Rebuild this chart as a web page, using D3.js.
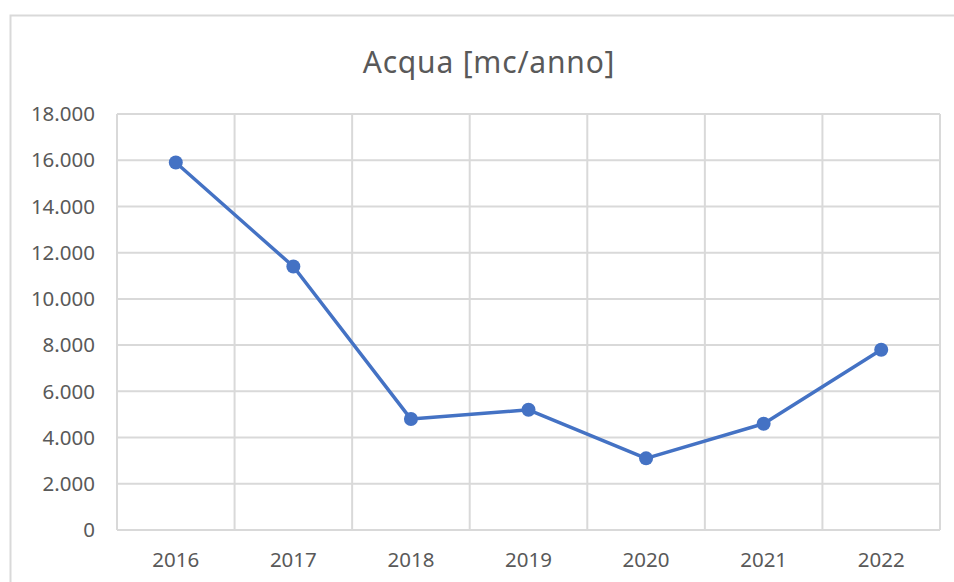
<!DOCTYPE html>
<html>
<head>
<meta charset="utf-8">
<script src="https://cdn.jsdelivr.net/npm/d3@7"></script>
<style>
	body { margin: 0; background: #fff; }
	svg { display: block; }
	text { font-family: "Segoe UI", "Noto Sans", "Open Sans", sans-serif; fill: #595959; }
</style>
</head>
<body>
<svg id="chart" width="954" height="582"></svg>
<script>
// data
const years = ['2016', '2017', '2018', '2019', '2020', '2021', '2022']
const acqua = [15900, 11400, 4800, 5200, 3100, 4600, 7800]
const yTicks = [0, 2000, 4000, 6000, 8000, 10000, 12000, 14000, 16000, 18000]
const title = 'Acqua [mc/anno]'

const svg = d3.select('#chart')
const margin = { left: 117, right: 14, top: 114, bottom: 52 }
const width = 954, height = 582

// outer chart frame
svg.append('rect')
	.attr('x', 10.5).attr('y', 15.5)
	.attr('width', 980).attr('height', 600)
	.attr('fill', 'none').attr('stroke', '#d9d9d9').attr('stroke-width', 2)

const x = d3.scaleBand().domain(years).range([margin.left, width - margin.right])
const y = d3.scaleLinear().domain([0, 18000]).range([height - margin.bottom, margin.top])

const fmt = v => v === 0 ? '0' : d3.format(',')(v).replace(/,/g, '.')

// horizontal grid
svg.append('g')
	.selectAll('line').data(yTicks).join('line')
	.attr('x1', margin.left).attr('x2', width - margin.right)
	.attr('y1', d => y(d)).attr('y2', d => y(d))
	.attr('stroke', '#d9d9d9').attr('stroke-width', 2)

// vertical grid on category boundaries
const bounds = years.map(d => x(d)).concat([x(years[years.length - 1]) + x.bandwidth()])
svg.append('g')
	.selectAll('line').data(bounds).join('line')
	.attr('x1', d => d).attr('x2', d => d)
	.attr('y1', margin.top).attr('y2', height - margin.bottom)
	.attr('stroke', '#d9d9d9').attr('stroke-width', 2)

// y labels
svg.append('g')
	.selectAll('text').data(yTicks).join('text')
	.attr('x', 95).attr('y', d => y(d))
	.attr('dy', '0.35em')
	.attr('text-anchor', 'end')
	.attr('font-size', 20.5)
	.text(fmt)

// x labels
svg.append('g')
	.selectAll('text').data(years).join('text')
	.attr('x', d => x(d) + x.bandwidth() / 2)
	.attr('y', height - margin.bottom + 30)
	.attr('dy', '0.35em')
	.attr('text-anchor', 'middle')
	.attr('font-size', 20.5)
	.text(d => d)

// title
svg.append('text')
	.attr('x', 489).attr('y', 62)
	.attr('dy', '0.35em')
	.attr('text-anchor', 'middle')
	.attr('font-size', 30)
	.attr('letter-spacing', 0.8)
	.text(title)

const cx = (d, i) => x(years[i]) + x.bandwidth() / 2

const line = d3.line()
	.x(cx)
	.y(d => y(d))

svg.append('path')
	.datum(acqua)
	.attr('d', line)
	.attr('fill', 'none')
	.attr('stroke', '#4472c4')
	.attr('stroke-width', 3.5)
	.attr('stroke-linejoin', 'round')

svg.append('g')
	.selectAll('circle').data(acqua).join('circle')
	.attr('cx', cx)
	.attr('cy', d => y(d))
	.attr('r', 7)
	.attr('fill', '#4472c4')
</script>
</body>
</html>
